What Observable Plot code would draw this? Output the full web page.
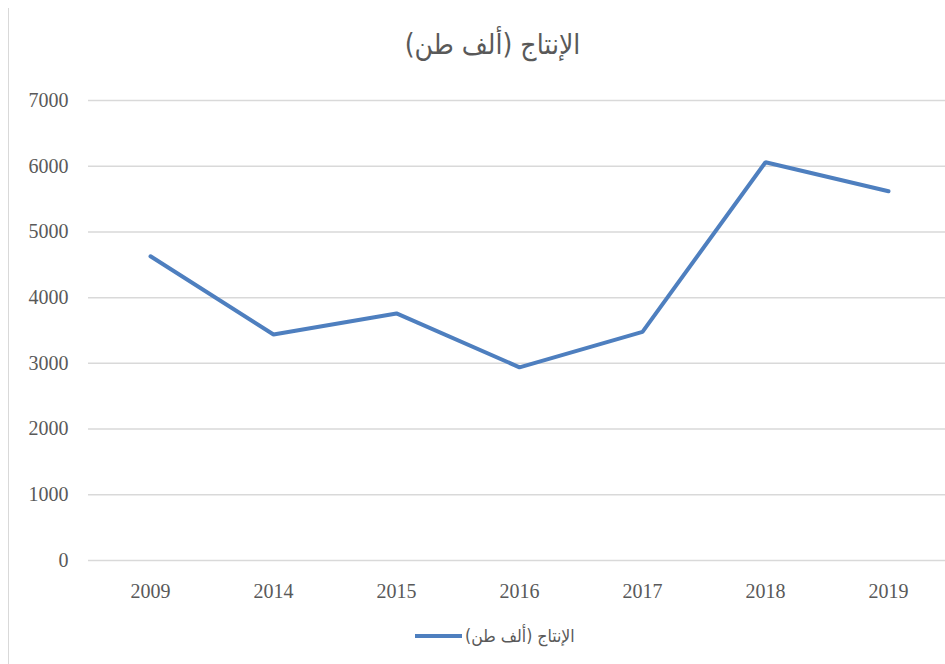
<!DOCTYPE html>
<html><head><meta charset="utf-8">
<script src="https://cdn.jsdelivr.net/npm/d3@7"></script>
<script src="https://cdn.jsdelivr.net/npm/@observablehq/plot@0.6"></script>
<style>
body{margin:0;background:#fff;}
#wrap{position:relative;width:945px;height:664px;overflow:hidden;background:#fff;}
#border{position:absolute;left:8px;top:8px;width:0;height:660px;border-left:1.5px solid #d9d9d9;}
#title{position:absolute;left:0;width:985px;top:28px;text-align:center;font-family:"DejaVu Sans Condensed","DejaVu Sans";font-size:28px;color:#595959;direction:rtl;}
#chart{position:absolute;left:0;top:80px;}
#legend{position:absolute;top:626px;left:415px;display:flex;align-items:center;gap:3px;font-family:"DejaVu Sans Condensed","DejaVu Sans";font-size:17.5px;color:#595959;}
#legend .sw{width:47px;height:4px;background:#4e7fbf;}
</style></head>
<body><div id="wrap"><div id="border"></div><div id="title"></div><div id="chart"></div>
<div id="legend"><span class="sw"></span><span id="ltext" dir="rtl"></span></div></div>
<script>
const title = "الإنتاج (ألف طن)";
const years = ["2009","2014","2015","2016","2017","2018","2019"];
const production = [4630, 3440, 3760, 2940, 3480, 6060, 5620];
const yTicks = [0,1000,2000,3000,4000,5000,6000,7000];

document.getElementById("title").textContent = title;
document.getElementById("ltext").textContent = title;

const data = years.map((y,i)=>({year:y, value:production[i]}));
const chart = Plot.plot({
  width: 945, height: 525,
  marginLeft: 88, marginRight: 0, marginTop: 20, marginBottom: 45,
  style: {fontFamily: "'Liberation Serif', serif", fontSize: "20px", color: "#595959"},
  x: {type: "point", domain: years, range: [86, 952], padding: 0.5, label: null},
  y: {domain: [0, 7000], ticks: yTicks, label: null},
  marks: [
    Plot.ruleY(yTicks, {stroke: "#d9d9d9", strokeWidth: 1.5}),
    Plot.axisY({ticks: yTicks, tickFormat: d => String(d), tickSize: 0, tickPadding: 20, label: null, fill: "#595959", fontSize: 20}),
    Plot.axisX({tickSize: 0, tickPadding: 23, label: null, fill: "#595959", fontSize: 20}),
    Plot.line(data, {x: "year", y: "value", stroke: "#4e7fbf", strokeWidth: 4, strokeLinejoin: "miter"})
  ]
});
document.getElementById("chart").appendChild(chart);
</script></body></html>
